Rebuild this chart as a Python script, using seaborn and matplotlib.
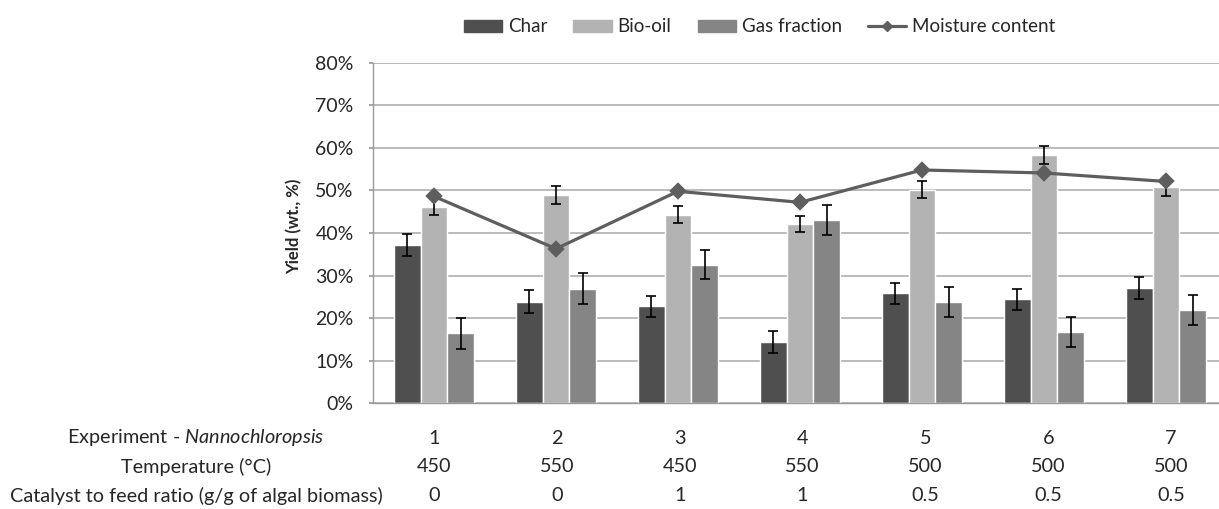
import matplotlib
matplotlib.use("Agg")
import matplotlib.pyplot as plt
import matplotlib.transforms as mtransforms
from matplotlib.lines import Line2D
from matplotlib.ticker import PercentFormatter, MultipleLocator
import seaborn as sns
import pandas as pd

# ---------------- data ----------------
experiments = ["1", "2", "3", "4", "5", "6", "7"]
temperature = ["450", "550", "450", "550", "500", "500", "500"]
catalyst_ratio = ["0", "0", "1", "1", "0.5", "0.5", "0.5"]

char = [37.2, 23.9, 22.8, 14.4, 25.8, 24.4, 27.1]
bio_oil = [46.2, 48.9, 44.3, 42.1, 50.2, 58.4, 50.7]
gas_fraction = [16.4, 26.9, 32.6, 43.1, 23.8, 16.8, 21.9]
moisture = [48.6, 36.3, 49.8, 47.2, 54.8, 54.1, 52.1]

char_err = [2.5, 2.6, 2.5, 2.6, 2.55, 2.4, 2.6]
bio_oil_err = [1.9, 2.1, 2.0, 1.9, 1.9, 2.1, 2.0]
gas_err = [3.6, 3.6, 3.5, 3.5, 3.5, 3.5, 3.5]

series = ["Char", "Bio-oil", "Gas fraction"]
line_label = "Moisture content"
row_labels = ["Experiment - $\\it{Nannochloropsis}$", "Temperature (°C)",
              "Catalyst to feed ratio (g/g of algal biomass)"]
ylabel = "Yield (wt., %)"

# ---------------- style ----------------
sns.set_theme(style="white")
FONT = "Lato"
plt.rcParams["font.family"] = [FONT, "DejaVu Sans"]
plt.rcParams["mathtext.fontset"] = "custom"
plt.rcParams["mathtext.rm"] = FONT
plt.rcParams["mathtext.it"] = FONT + ":italic"

colors = {"Char": "#4f4f4f", "Bio-oil": "#b3b3b3", "Gas fraction": "#858585"}
line_color = "#5e5e5e"
text_color = "#262626"
grid_color = "#a8a8a8"
fs_table = 14.3
fs_tick = 14
fs_leg = 13.5

W, H = 1219, 509
fig = plt.figure(figsize=(W / 100, H / 100), dpi=100)
ax = fig.add_axes([373 / W, (H - 403.3) / H, 854 / W, 340.6 / H])

df = pd.DataFrame({
    "Experiment": experiments * 3,
    "Series": sum([[s] * len(experiments) for s in series], []),
    "Yield": char + bio_oil + gas_fraction,
    "Err": char_err + bio_oil_err + gas_err,
})

sns.barplot(data=df, x="Experiment", y="Yield", hue="Series", order=experiments,
            hue_order=series, palette=colors, saturation=1, width=0.656,
            errorbar=None, ax=ax, zorder=2, legend=False)

# error bars from the bars' own positions
for cont, s in zip(ax.containers, series):
    sub = df[df["Series"] == s].set_index("Experiment").loc[experiments]
    xs = [p.get_x() + p.get_width() / 2 for p in cont.patches]
    ys = [p.get_height() for p in cont.patches]
    ax.errorbar(xs, ys, yerr=sub["Err"].values, fmt="none", ecolor="black",
                elinewidth=1.2, capsize=3.3, capthick=1.2, zorder=3)

mdf = pd.DataFrame({"Experiment": experiments, "Moisture": moisture})
sns.pointplot(data=mdf, x="Experiment", y="Moisture", order=experiments,
              color=line_color, markers="D", markersize=7, linewidth=2.3,
              errorbar=None, ax=ax)
for ln in ax.lines[-1:]:
    ln.set_zorder(5)

# axes
ax.set_xlim(-0.5, len(experiments) - 0.5)
ax.set_ylim(0, 80)
ax.yaxis.set_major_locator(MultipleLocator(10))
ax.yaxis.set_major_formatter(PercentFormatter(xmax=100, decimals=0))
ax.grid(axis="y", color=grid_color, linewidth=1.1, zorder=0)
ax.set_axisbelow(True)
for sp in ["top", "right"]:
    ax.spines[sp].set_visible(False)
for sp in ["left", "bottom"]:
    ax.spines[sp].set_color("#9a9a9a")
    ax.spines[sp].set_linewidth(1.0)
ax.tick_params(axis="y", length=3, color="#9a9a9a", pad=11, labelsize=fs_tick,
               labelcolor=text_color, left=True)
ax.set_xticks(range(len(experiments)))
ax.set_xticklabels([])
ax.tick_params(axis="x", length=0)
ax.set_xlabel("")
ax.set_ylabel(ylabel, fontsize=12, fontweight="bold", color=text_color)
ax.yaxis.set_label_coords(-0.083, 0.52)

# table below axis
trans = mtransforms.blended_transform_factory(ax.transData, fig.transFigure)
row_y = [1 - 438 / H, 1 - 467 / H, 1 - 495.5 / H]
rows = [experiments, temperature, catalyst_ratio]
for yv, lab, vals in zip(row_y, row_labels, rows):
    fig.text(196 / W, yv, lab, ha="center", va="center", fontsize=fs_table,
             color=text_color)
    for i, v in enumerate(vals):
        ax.text(i * 1.007, yv, v, transform=trans, ha="center", va="center",
                fontsize=fs_table, color=text_color, clip_on=False)

# legend
handles = [plt.Rectangle((0, 0), 1, 1, color=colors[s]) for s in series]
handles.append(Line2D([], [], color=line_color, lw=2.3, marker="D", markersize=5.5))
fig.legend(handles, series + [line_label], loc="center",
           bbox_to_anchor=(759.5 / W, 1 - 27 / H), ncol=4, frameon=False,
           fontsize=fs_leg, handlelength=2.05, handleheight=0.62, handletextpad=0.3,
           columnspacing=1.4, labelcolor=text_color)

fig.savefig("out.png", dpi=100)
